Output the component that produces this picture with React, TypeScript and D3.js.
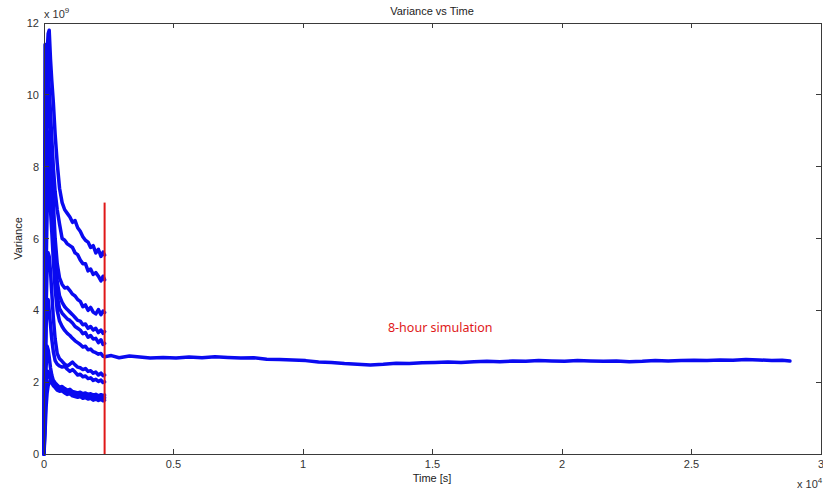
import React from "react";
import * as d3 from "d3";

const TITLE = "Variance vs Time";
const X_LABEL = "Time [s]";
const Y_LABEL = "Variance";
const X_TICKS = [0, 5000, 10000, 15000, 20000, 25000, 30000];
const X_TICK_LABELS = ["0", "0.5", "1", "1.5", "2", "2.5", "3"];
const Y_TICKS = [0, 2, 4, 6, 8, 10, 12];
const Y_TICK_LABELS = ["0", "2", "4", "6", "8", "10", "12"];

// short runs (values in 1e9)
const SHORT_T = [0, 40, 80, 120, 160, 200, 250, 300, 360, 430, 510, 600, 700, 800, 900, 1000, 1100, 1200, 1300, 1400, 1500, 1600, 1700, 1800, 1900, 2000, 2100, 2200, 2280, 2340];
const RUN_A = [0, 5.5, 9.8, 11.2, 11.7, 11.8, 11.0, 10.4, 9.8, 8.9, 8.1, 7.4, 7.0, 6.8, 6.7, 6.6, 6.45, 6.5, 6.3, 6.2, 6.05, 5.95, 5.9, 5.75, 5.8, 5.6, 5.7, 5.5, 5.62, 5.54];
const RUN_B = [0, 11.4, 11.3, 11.4, 10.9, 10.2, 9.5, 8.8, 8.0, 7.3, 6.8, 6.4, 6.0, 5.95, 5.85, 5.8, 5.75, 5.6, 5.55, 5.4, 5.3, 5.3, 5.1, 5.15, 5.0, 5.05, 4.95, 4.82, 4.95, 4.85];
const RUN_C = [0, 3.5, 7.5, 9.6, 10.2, 9.8, 9.0, 8.0, 7.0, 6.0, 5.3, 4.9, 4.72, 4.62, 4.64, 4.55, 4.45, 4.4, 4.3, 4.25, 4.1, 4.15, 4.0, 4.08, 3.95, 3.9, 4.02, 3.88, 3.98, 3.94];
const RUN_D = [0, 4.5, 8.5, 9.0, 8.8, 8.4, 7.8, 7.0, 6.2, 5.4, 4.8, 4.4, 4.22, 4.1, 4.02, 3.95, 3.88, 3.8, 3.72, 3.7, 3.6, 3.62, 3.5, 3.55, 3.45, 3.5, 3.38, 3.45, 3.36, 3.41];
const RUN_E = [0, 3.0, 6.0, 7.8, 8.2, 7.9, 7.3, 6.6, 5.8, 5.0, 4.4, 4.05, 3.92, 3.84, 3.76, 3.72, 3.65, 3.55, 3.5, 3.45, 3.35, 3.38, 3.25, 3.3, 3.2, 3.22, 3.1, 3.18, 3.05, 3.08];
const RUN_F = [0, 2.5, 5.0, 6.8, 7.4, 7.2, 6.8, 6.2, 5.4, 4.6, 4.0, 3.7, 3.55, 3.44, 3.36, 3.3, 3.22, 3.15, 3.1, 3.05, 2.98, 3.0, 2.9, 2.92, 2.85, 2.82, 2.78, 2.8, 2.72, 2.71];
const RUN_G = [0, 2.0, 4.0, 5.2, 5.6, 5.5, 5.1, 4.5, 3.8, 3.2, 2.8, 2.65, 2.58, 2.5, 2.45, 2.5, 2.56, 2.48, 2.42, 2.4, 2.35, 2.38, 2.3, 2.32, 2.25, 2.28, 2.2, 2.25, 2.18, 2.2];
const RUN_H = [0, 1.8, 3.5, 4.2, 4.3, 4.0, 3.6, 3.2, 2.85, 2.6, 2.5, 2.45, 2.42, 2.44, 2.36, 2.3, 2.35, 2.28, 2.2, 2.22, 2.15, 2.17, 2.1, 2.12, 2.05, 2.08, 2.02, 2.06, 1.99, 2.01];
const RUN_I = [0, 1.2, 2.4, 3.0, 2.9, 2.7, 2.4, 2.2, 2.05, 1.98, 1.92, 1.86, 1.88, 1.82, 1.78, 1.8, 1.74, 1.72, 1.7, 1.72, 1.68, 1.7, 1.66, 1.68, 1.64, 1.66, 1.62, 1.65, 1.63, 1.64];
const RUN_J = [0, 0.9, 1.8, 2.2, 2.3, 2.2, 2.1, 2.0, 1.94, 1.9, 1.86, 1.8, 1.82, 1.76, 1.74, 1.75, 1.7, 1.68, 1.66, 1.67, 1.62, 1.64, 1.6, 1.62, 1.58, 1.6, 1.56, 1.59, 1.56, 1.57];
const RUN_K = [0, 0.6, 1.3, 1.7, 1.9, 2.0, 2.05, 1.98, 1.9, 1.85, 1.78, 1.75, 1.76, 1.7, 1.66, 1.68, 1.62, 1.6, 1.58, 1.6, 1.55, 1.57, 1.53, 1.55, 1.5, 1.53, 1.49, 1.52, 1.48, 1.5];

// long 8-hour run
const LONG_T = [2340, 2600, 2900, 3300, 3700, 4100, 4600, 5100, 5600, 6100, 6600, 7100, 7600, 8100, 8600, 9100, 9600, 10100, 10600, 11100, 11600, 12100, 12600, 13100, 13600, 14100, 14600, 15100, 15600, 16100, 16600, 17100, 17600, 18100, 18600, 19100, 19600, 20100, 20600, 21100, 21600, 22100, 22600, 23100, 23600, 24100, 24600, 25100, 25600, 26100, 26600, 27100, 27600, 28100, 28500, 28800];
const LONG_V = [2.71, 2.74, 2.68, 2.73, 2.7, 2.67, 2.69, 2.67, 2.7, 2.68, 2.71, 2.69, 2.67, 2.68, 2.64, 2.63, 2.62, 2.6, 2.56, 2.55, 2.52, 2.5, 2.48, 2.5, 2.53, 2.52, 2.54, 2.55, 2.56, 2.55, 2.57, 2.58, 2.57, 2.59, 2.58, 2.6, 2.59, 2.58, 2.6, 2.59, 2.58, 2.59, 2.57, 2.58, 2.6, 2.59, 2.6, 2.61, 2.6, 2.62, 2.61, 2.63, 2.62, 2.6, 2.61, 2.59];

const MARKER_T = [2340];
const MARKER_V = [0, 7];
const ANNOTATION = "8-hour simulation";
const ANNOT_POS = [13280, 3.4];

const SHORT_RUNS = [RUN_A, RUN_B, RUN_C, RUN_D, RUN_E, RUN_F, RUN_G, RUN_H, RUN_I, RUN_J, RUN_K];

const W = 823;
const H = 490;
const M = { left: 44, right: 821, top: 23, bottom: 454 };
const FONT = "'Liberation Sans', Arial, sans-serif";
const BLUE = "#0a0af0";
const RED = "#e01818";
const AX = "#3a3a3a";

export default function App() {
  const x = d3.scaleLinear().domain([0, 30000]).range([M.left, M.right]);
  const y = d3.scaleLinear().domain([0, 12]).range([M.bottom, M.top]);
  const line = d3
    .line<[number, number]>()
    .x((d) => x(d[0]))
    .y((d) => y(d[1]));

  const zip = (ts: number[], vs: number[]): [number, number][] => {
    const n = Math.min(ts.length, vs.length);
    const out: [number, number][] = [];
    for (let i = 0; i < n; i++) out.push([ts[i], vs[i]]);
    return out;
  };

  const tickLen = 5;

  return (
    <svg
      width={W}
      height={H}
      style={{ position: "absolute", left: 0, top: 0, background: "#fff" }}
    >
      <rect x={0} y={0} width={W} height={H} fill="#fff" />
      {/* data */}
      <g fill="none" stroke={BLUE} strokeWidth={3.5} strokeLinejoin="round" strokeLinecap="round">
        {SHORT_RUNS.map((r, i) => (
          <path key={i} d={line(zip(SHORT_T, r)) || ""} />
        ))}
        <path d={line(zip(LONG_T, LONG_V)) || ""} />
      </g>
      {/* marker */}
      <line
        x1={x(MARKER_T[0])}
        x2={x(MARKER_T[0])}
        y1={y(MARKER_V[0])}
        y2={y(MARKER_V[1])}
        stroke={RED}
        strokeWidth={2}
      />
      <text
        x={x(ANNOT_POS[0])}
        y={y(ANNOT_POS[1])}
        fill={RED}
        fontFamily="'Noto Sans', sans-serif"
        fontSize={12.5}
        textAnchor="start"
      >
        {ANNOTATION}
      </text>
      {/* frame */}
      <rect
        x={M.left}
        y={M.top}
        width={M.right - M.left}
        height={M.bottom - M.top}
        fill="none"
        stroke={AX}
        strokeWidth={1}
        shapeRendering="crispEdges"
      />
      {/* x ticks */}
      {X_TICKS.map((t, i) => (
        <g key={"x" + i}>
          <line x1={x(t)} x2={x(t)} y1={M.bottom} y2={M.bottom - tickLen} stroke={AX} shapeRendering="crispEdges" />
          <line x1={x(t)} x2={x(t)} y1={M.top} y2={M.top + tickLen} stroke={AX} shapeRendering="crispEdges" />
          <text x={x(t)} y={M.bottom + 14} fontFamily={FONT} fontSize={11} fill="#333" textAnchor="middle">
            {X_TICK_LABELS[i]}
          </text>
        </g>
      ))}
      {/* y ticks */}
      {Y_TICKS.map((t, i) => (
        <g key={"y" + i}>
          <line x1={M.left} x2={M.left + tickLen} y1={y(t)} y2={y(t)} stroke={AX} shapeRendering="crispEdges" />
          <line x1={M.right} x2={M.right - tickLen} y1={y(t)} y2={y(t)} stroke={AX} shapeRendering="crispEdges" />
          <text x={M.left - 5} y={y(t) + 4} fontFamily={FONT} fontSize={11} fill="#333" textAnchor="end">
            {Y_TICK_LABELS[i]}
          </text>
        </g>
      ))}
      {/* exponents */}
      <text x={M.left} y={18} fontFamily={FONT} fontSize={11} fill="#333">
        x 10
        <tspan dy={-5} fontSize={8}>9</tspan>
      </text>
      <text x={797} y={488} fontFamily={FONT} fontSize={11} fill="#333">
        x 10
        <tspan dy={-5} fontSize={8}>4</tspan>
      </text>
      {/* titles */}
      <text x={432} y={15} fontFamily={FONT} fontSize={11} fill="#222" textAnchor="middle">
        {TITLE}
      </text>
      <text x={432} y={482} fontFamily={FONT} fontSize={11} fill="#222" textAnchor="middle">
        {X_LABEL}
      </text>
      <text
        transform={`translate(22, ${(M.top + M.bottom) / 2}) rotate(-90)`}
        fontFamily={FONT}
        fontSize={11}
        fill="#222"
        textAnchor="middle"
      >
        {Y_LABEL}
      </text>
    </svg>
  );
}
